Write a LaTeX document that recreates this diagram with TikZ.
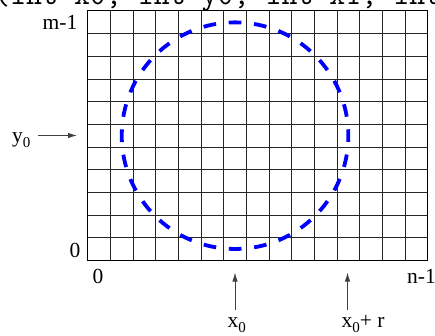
\documentclass[tikz,border=0pt]{standalone}
\usepackage{fontspec}
\setmainfont{Liberation Serif}
\usetikzlibrary{arrows.meta}
\newcommand{\lowsub}[1]{\raisebox{-5pt}{\fontsize{15}{15}\selectfont #1}}
\begin{document}
\begin{tikzpicture}[x=1pt,y=-1pt,
  lbl/.style={font=\fontsize{21.5}{24}\selectfont, inner sep=0pt},
  gridline/.style={black!85, line width=0.9pt},
  pointer/.style={black!75, line width=0.9pt, -{Latex[length=9pt,width=5.5pt]}},
  circ/.style={blue, line width=3.8pt, dash pattern=on 12.7pt off 12.73pt, dash phase=6.35pt}]
\useasboundingbox (0,0) rectangle (435,336);
\clip (0,0) rectangle (435,336);
\fill[white] (0,0) rectangle (435,336);
% clipped code line at the top
\node[font=\ttfamily\fontsize{31}{34}\selectfont, anchor=base west, inner sep=0pt] (code) at (-6,4.7) {(int x0, int y0, int x1, int};
% grid 15 x 11
\def\gx{87.7}\def\gy{11}\def\cw{22.667}
\foreach \i in {1,...,14} \draw[gridline] (\gx+\i*\cw,\gy) -- (\gx+\i*\cw,\gy+11*\cw);
\foreach \j in {1,...,10} \draw[gridline] (\gx,\gy+\j*\cw) -- (\gx+15*\cw,\gy+\j*\cw);
\draw[black, line width=1pt] (\gx,\gy) rectangle (\gx+15*\cw,\gy+11*\cw);
% circle
\node[circle, minimum size=226.7pt, inner sep=0pt] (c) at (\gx+6.5*\cw,\gy+5.5*\cw) {};
\draw[circ] (c.center) circle (113.3pt);
% labels
\node[lbl, anchor=base east] (m1) at (77.5,30) {m-1};
\node[lbl, anchor=base east] (z1) at (80.5,257) {0};
\node[lbl, anchor=base] (z2) at (98,283.5) {0};
\node[lbl, anchor=base west] (n1) at (407,283.5) {n-1};
\node[lbl, anchor=base west] (x0) at (227.5,327) {x\lowsub{0}};
\node[lbl, anchor=base west] (x0r) at (341.5,327) {x\lowsub{0}+ r};
\node[lbl, anchor=base west] (y0) at (12,143) {y\lowsub{0}};
% arrows
\coordinate (ax0s) at (235,310); \coordinate (ax0e) at (235,272.5);
\coordinate (axrs) at (347.5,310); \coordinate (axre) at (347.5,272.5);
\coordinate (ay0s) at (38,135.5); \coordinate (ay0e) at (77,135.5);
\draw[pointer] (ax0s) -- (ax0e);
\draw[pointer] (axrs) -- (axre);
\draw[pointer] (ay0s) -- (ay0e);
\end{tikzpicture}
\end{document}
